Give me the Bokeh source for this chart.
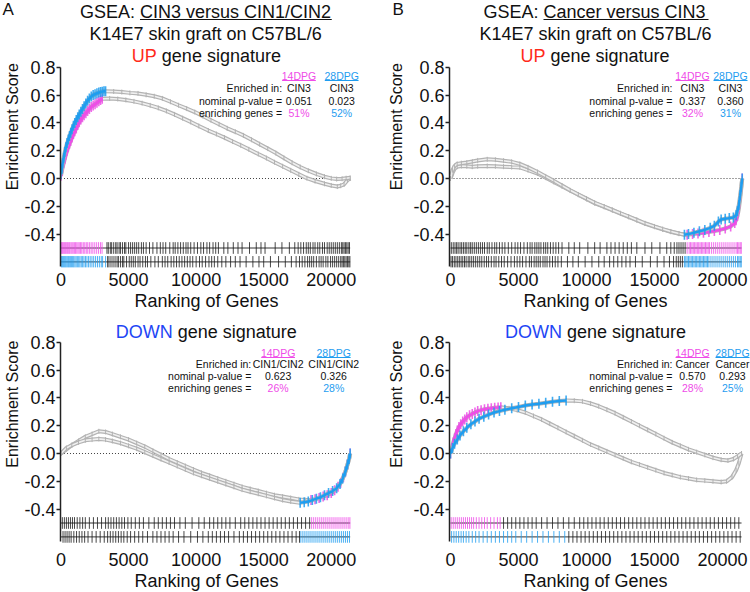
import numpy as np
from bokeh.plotting import figure
from bokeh.models import Range1d, FixedTicker, NumeralTickFormatter, Label, Title
from bokeh.core.properties import value
from bokeh.layouts import column, row
from bokeh.embed import file_html
from bokeh.resources import INLINE

# ---------------- data ----------------
GENE_TICKS = [0, 5000, 10000, 15000, 20000]
ES_TICKS = [-0.4, -0.2, 0.0, 0.2, 0.4, 0.6, 0.8]
N_GENES = 21400
GROUPS = ["14DPG", "28DPG"]
ROW_LABELS = ["Enriched in:", "nominal p-value =", "enriching genes ="]

# Panel A, UP signature
A_UP_ENRICHED = ["CIN3", "CIN3"]
A_UP_PVAL = ["0.051", "0.023"]
A_UP_PCT = ["51%", "52%"]
A_UP_14_GENE = [0, 60, 120, 200, 280, 360, 450, 540, 630, 720, 820, 920, 1020, 1130, 1240, 1350, 1470, 1590,
                1710, 1840, 1970, 2100, 2240, 2380, 2520, 2660, 2800, 2930, 3050, 3600, 4200, 4800, 5400, 6000,
                6600, 7200, 7800, 8400, 9000, 9600, 10200, 10900, 11500, 12100, 12700, 13300, 13900, 14600,
                15200, 15800, 16400, 17000, 17600, 18200, 18800, 19500, 20000, 20450, 20700, 20950, 21200, 21400]
A_UP_14_ES = [0.02, 0.05, 0.08, 0.11, 0.14, 0.17, 0.2, 0.225, 0.25, 0.27, 0.295, 0.32, 0.34, 0.36, 0.385, 0.405,
              0.425, 0.44, 0.455, 0.47, 0.485, 0.5, 0.515, 0.525, 0.535, 0.545, 0.555, 0.565, 0.573, 0.576, 0.572,
              0.565, 0.555, 0.542, 0.526, 0.508, 0.486, 0.461, 0.434, 0.407, 0.378, 0.345, 0.32, 0.294, 0.266,
              0.239, 0.21, 0.176, 0.147, 0.117, 0.088, 0.059, 0.03, 0.002, -0.018, -0.038, -0.05, -0.058, -0.052,
              -0.042, -0.012, 0.0]
A_UP_14_LE = 3050
A_UP_28_GENE = [0, 60, 120, 200, 280, 360, 450, 540, 630, 720, 820, 920, 1020, 1130, 1240, 1350, 1470, 1590,
                1710, 1840, 1970, 2100, 2240, 2380, 2520, 2660, 2800, 2930, 3050, 3180, 3300, 3900, 4500, 5100,
                5700, 6300, 6900, 7500, 8100, 8700, 9300, 9900, 10500, 11100, 11700, 12300, 12900, 13500, 14100,
                14700, 15300, 15900, 16500, 17100, 17700, 18300, 18900, 19500, 20000, 20400, 20800, 21100, 21400]
A_UP_28_ES = [0.03, 0.07, 0.11, 0.15, 0.19, 0.225, 0.255, 0.28, 0.305, 0.33, 0.355, 0.38, 0.4, 0.42, 0.44, 0.46,
              0.48, 0.5, 0.52, 0.54, 0.56, 0.575, 0.59, 0.6, 0.607, 0.613, 0.618, 0.622, 0.625, 0.627, 0.628,
              0.626, 0.622, 0.616, 0.612, 0.602, 0.592, 0.576, 0.552, 0.527, 0.503, 0.478, 0.449, 0.419, 0.39,
              0.361, 0.336, 0.31, 0.279, 0.247, 0.215, 0.183, 0.148, 0.113, 0.083, 0.056, 0.033, 0.013, 0.001,
              -0.004, -0.002, 0.002, 0.005]
A_UP_28_LE = 3300
A_UP_14_HITS = [20, 80, 140, 210, 280, 350, 430, 500, 580, 650, 740, 820, 900, 990, 1080, 1170, 1260, 1350, 1450,
                1540, 1650, 1760, 1870, 1980, 2100, 2230, 2360, 2500, 2640, 2780, 2920, 3040,
                3400, 3500, 3650, 3750, 3900, 4050, 4150, 4300, 4400, 4550, 4700, 4800, 5000, 5150, 5300, 5450,
                5600, 5750, 5950, 6100, 6300, 6550, 6800, 7100, 7350, 7550, 7750, 8050, 8300, 8450, 8650, 8850,
                9050, 9250, 9400, 9600, 9850, 10100, 10350, 10550, 10800, 11000, 11250, 11450, 11650, 12050,
                12350, 12750, 13100, 13400, 13950, 14450, 14800, 15100, 15850, 16350, 16900, 17300, 17550, 17750,
                17950, 18150, 18300, 18450, 18650, 18800, 19000, 19150, 19350, 19500, 19700, 19850, 20000, 20150,
                20300, 20450, 20600, 20750, 20850, 20950, 21050, 21150, 21250, 21350]
A_UP_28_HITS = [30, 100, 170, 240, 310, 380, 460, 540, 610, 690, 770, 860, 940, 1030, 1120, 1210, 1310, 1400,
                1500, 1600, 1700, 1810, 1920, 2040, 2160, 2290, 2420, 2560, 2700, 2840, 2980, 3080,
                3300, 3450, 3550, 3700, 3850, 4000, 4150, 4250, 4400, 4550, 4650, 4850, 5050, 5200, 5350, 5500,
                5700, 5850, 6050, 6250, 6400, 6650, 6950, 7200, 7500, 7700, 7900, 8150, 8350, 8550, 8750, 8950,
                9150, 9350, 9550, 9750, 10000, 10250, 10450, 10700, 10950, 11150, 11350, 11600, 11900, 12200,
                12550, 12900, 13250, 13700, 14200, 14650, 15000, 15500, 16100, 16600, 17050, 17400, 17650, 17850,
                18050, 18250, 18400, 18550, 18700, 18900, 19100, 19250, 19400, 19600, 19750, 19950, 20100, 20250,
                20400, 20550, 20700, 20800, 20900, 21000, 21100, 21200, 21300, 21380]

# Panel B, UP signature
B_UP_ENRICHED = ["CIN3", "CIN3"]
B_UP_PVAL = ["0.337", "0.360"]
B_UP_PCT = ["32%", "31%"]
B_UP_14_GENE = [0, 150, 300, 490, 800, 1200, 1600, 2000, 2700, 3300, 3900, 4500, 5100, 5700, 6400, 7000, 7600,
                8200, 8800, 9400, 10000, 10600, 11300, 11900, 12500, 13100, 13700, 14300, 15000, 15600, 16200,
                16800, 17400, 17800, 18200, 18600, 19000, 19400, 19800, 20200, 20600, 20900, 21000, 21100, 21200,
                21280, 21350, 21400, 21450]
B_UP_14_ES = [0.0, 0.04, 0.07, 0.085, 0.09, 0.088, 0.085, 0.088, 0.09, 0.088, 0.085, 0.082, 0.08, 0.06, 0.036,
              0.006, -0.025, -0.056, -0.087, -0.117, -0.147, -0.177, -0.204, -0.228, -0.252, -0.276, -0.3, -0.324,
              -0.347, -0.366, -0.383, -0.397, -0.405, -0.4, -0.395, -0.39, -0.385, -0.378, -0.37, -0.36, -0.345,
              -0.32, -0.3, -0.27, -0.22, -0.16, -0.1, -0.05, 0.0]
B_UP_14_LE = 17400
B_UP_28_GENE = [0, 150, 300, 490, 800, 1200, 1600, 2000, 2700, 3300, 3900, 4500, 5100, 5700, 6400, 7000, 7600,
                8200, 8800, 9400, 10000, 10600, 11300, 11900, 12500, 13100, 13700, 14300, 15000, 15600, 16200,
                16800, 17200, 17500, 17900, 18300, 18700, 19100, 19400, 19700, 19900, 20200, 20500, 20800, 21000,
                21100, 21200, 21300, 21380, 21450]
B_UP_28_ES = [0.0, 0.06, 0.09, 0.105, 0.11, 0.115, 0.122, 0.13, 0.138, 0.135, 0.128, 0.12, 0.105, 0.08, 0.047,
              0.015, -0.017, -0.051, -0.085, -0.115, -0.145, -0.175, -0.202, -0.226, -0.25, -0.274, -0.298,
              -0.322, -0.345, -0.364, -0.381, -0.396, -0.405, -0.4, -0.39, -0.38, -0.37, -0.355, -0.34, -0.31,
              -0.295, -0.29, -0.285, -0.28, -0.265, -0.235, -0.19, -0.12, -0.06, 0.0]
B_UP_28_LE = 17200
B_UP_14_HITS = [60, 200, 330, 450, 560, 700, 820, 950, 1080, 1200, 1350, 1480, 1600, 1750, 1900, 2050, 2200,
                2350, 2500, 2700, 2850, 3050, 3250, 3400, 3600, 3800, 4000, 4250, 4500, 4750, 4950, 5150, 5400,
                5650, 5850, 6000, 6200, 6350, 6500, 6650, 6850, 7000, 7150, 7350, 7550, 7750, 7950, 8200, 8700,
                9100, 9500, 10100, 10600, 11000, 11500, 11800, 12100, 12400, 12700, 13000, 13300, 13700, 14300,
                14800, 15400, 15900, 16200, 16450, 16650, 16800, 16950, 17100, 17250, 17400,
                17550, 17650, 17750, 17850, 17950, 18050, 18150, 18250, 18350, 18450, 18550, 18650, 18750, 18850,
                18950, 19050, 19200, 19350, 19500, 19650, 19800, 19950, 20100, 20250, 20400, 20550, 20700, 20850,
                21000, 21100, 21200, 21300, 21380]
B_UP_28_HITS = [40, 150, 280, 400, 530, 650, 780, 900, 1030, 1150, 1300, 1420, 1560, 1700, 1850, 2000, 2150,
                2300, 2480, 2650, 2800, 3000, 3200, 3350, 3550, 3750, 3950, 4200, 4450, 4700, 4900, 5100, 5300,
                5550, 5800, 5950, 6150, 6300, 6450, 6600, 6800, 6950, 7100, 7300, 7500, 7700, 7900, 8150, 8600,
                9000, 9400, 9900, 10400, 10900, 11300, 11700, 12000, 12300, 12600, 12900, 13200, 13600, 14100,
                14700, 15200, 15700, 16100, 16400, 16600, 16750, 16900, 17050, 17200,
                17300, 17400, 17500, 17600, 17700, 17800, 17900, 18000, 18100, 18200, 18300, 18400, 18500, 18600,
                18700, 18800, 18900, 19000, 19150, 19300, 19450, 19600, 19750, 19900, 20050, 20200, 20350, 20500,
                20650, 20800, 20950, 21100, 21200, 21300, 21380]

# Panel A, DOWN signature
A_DN_ENRICHED = ["CIN1/CIN2", "CIN1/CIN2"]
A_DN_PVAL = ["0.623", "0.326"]
A_DN_PCT = ["26%", "28%"]
A_DN_14_GENE = [0, 400, 800, 1300, 1800, 2300, 2800, 3300, 3800, 4400, 5000, 5600, 6200, 6800, 7400, 8000, 8600,
                9200, 9800, 10400, 11000, 11600, 12200, 12800, 13400, 14000, 14600, 15200, 15800, 16400, 17000,
                17600, 18100, 18500, 18800, 19100, 19400, 19700, 20000, 20250, 20500, 20700, 20900, 21050, 21200,
                21320, 21400]
A_DN_14_ES = [0.0, 0.03, 0.06, 0.09, 0.12, 0.14, 0.16, 0.155, 0.14, 0.12, 0.1, 0.075, 0.05, 0.02, -0.01, -0.04,
              -0.065, -0.09, -0.115, -0.14, -0.16, -0.18, -0.2, -0.22, -0.24, -0.255, -0.27, -0.285, -0.3, -0.31,
              -0.32, -0.33, -0.335, -0.335, -0.33, -0.32, -0.31, -0.3, -0.285, -0.265, -0.24, -0.21, -0.17, -0.13,
              -0.08, -0.04, 0.0]
A_DN_14_LE = 18500
A_DN_28_GENE = [0, 400, 800, 1300, 1800, 2300, 2800, 3300, 3800, 4400, 5000, 5600, 6200, 6800, 7400, 8000, 8600,
                9200, 9800, 10400, 11000, 11600, 12200, 12800, 13400, 14000, 14600, 15200, 15800, 16400, 17000,
                17700, 18000, 18300, 18600, 18900, 19200, 19500, 19800, 20100, 20400, 20650, 20850, 21050, 21200,
                21320, 21400]
A_DN_28_ES = [0.0, 0.04, 0.06, 0.08, 0.095, 0.1, 0.105, 0.1, 0.09, 0.075, 0.055, 0.035, 0.01, -0.015, -0.04,
              -0.065, -0.09, -0.115, -0.14, -0.16, -0.18, -0.2, -0.22, -0.24, -0.26, -0.275, -0.29, -0.305, -0.32,
              -0.335, -0.345, -0.355, -0.35, -0.345, -0.335, -0.325, -0.315, -0.3, -0.285, -0.27, -0.25, -0.22,
              -0.18, -0.13, -0.08, -0.04, 0.0]
A_DN_28_LE = 17700
A_DN_14_HITS = [100, 250, 400, 550, 700, 850, 1000, 1200, 1400, 1600, 1800, 2100, 2400, 2700, 3000, 3300, 3500,
                3700, 3900, 4100, 4300, 4500, 4700, 4950, 5200, 5500, 5800, 6100, 6500, 6900, 7200, 7500, 7800,
                8100, 8400, 8800, 9200, 9700, 10200, 10600, 11000, 11300, 11600, 11900, 12200, 12500, 12900,
                13300, 13600, 13900, 14200, 14500, 14800, 15100, 15400, 15700, 16000, 16300, 16600, 16900, 17200,
                17500, 17800, 18100, 18400,
                18550, 18700, 18850, 19000, 19150, 19300, 19450, 19600, 19750, 19900, 20050, 20200, 20350, 20500,
                20650, 20800, 20950, 21100, 21250, 21380]
A_DN_28_HITS = [150, 300, 450, 600, 750, 950, 1150, 1350, 1550, 1750, 2000, 2300, 2600, 2900, 3200, 3450, 3650,
                3850, 4050, 4250, 4450, 4650, 4900, 5150, 5450, 5750, 6050, 6400, 6800, 7100, 7400, 7700, 8000,
                8300, 8700, 9100, 9600, 10100, 10500, 10900, 11200, 11500, 11800, 12100, 12400, 12800, 13200,
                13500, 13800, 14100, 14400, 14700, 15000, 15300, 15600, 15900, 16200, 16500, 16800, 17100, 17400,
                17650,
                17750, 17900, 18050, 18200, 18350, 18500, 18650, 18800, 18950, 19100, 19250, 19400, 19550, 19700,
                19850, 20000, 20150, 20300, 20450, 20600, 20750, 20900, 21050, 21200, 21350]

# Panel B, DOWN signature
B_DN_ENRICHED = ["Cancer", "Cancer"]
B_DN_PVAL = ["0.570", "0.293"]
B_DN_PCT = ["28%", "25%"]
B_DN_14_GENE = [0, 100, 200, 300, 400, 500, 620, 750, 900, 1050, 1200, 1400, 1600, 1800, 2000, 2250, 2500, 2750,
                3000, 3250, 3500, 3700, 4300, 4900, 5500, 6100, 6700, 7300, 7900, 8500, 9100, 9700, 10300, 10900,
                11500, 12100, 12700, 13300, 13900, 14500, 15100, 15700, 16300, 16900, 17500, 18100, 18700, 19300,
                19900, 20300, 20700, 21000, 21200, 21400]
B_DN_14_ES = [0.0, 0.04, 0.08, 0.11, 0.14, 0.165, 0.19, 0.21, 0.23, 0.245, 0.26, 0.275, 0.285, 0.295, 0.305,
              0.312, 0.318, 0.322, 0.326, 0.329, 0.331, 0.332, 0.325, 0.312, 0.295, 0.27, 0.245, 0.215, 0.185,
              0.155, 0.125, 0.095, 0.065, 0.04, 0.015, -0.01, -0.035, -0.06, -0.08, -0.1, -0.12, -0.14, -0.155,
              -0.17, -0.18, -0.19, -0.195, -0.2, -0.205, -0.2, -0.17, -0.12, -0.07, 0.0]
B_DN_14_LE = 3700
B_DN_28_GENE = [0, 150, 300, 500, 700, 950, 1200, 1500, 1800, 2100, 2450, 2800, 3200, 3600, 4000, 4500, 5000,
                5500, 6000, 6500, 7000, 7500, 8000, 8500, 9100, 9700, 10300, 10900, 11500, 12100, 12700, 13300,
                13900, 14500, 15100, 15700, 16300, 16900, 17500, 18100, 18700, 19300, 19900, 20400, 20800, 21100,
                21400]
B_DN_28_ES = [0.0, 0.04, 0.07, 0.1, 0.13, 0.16, 0.185, 0.21, 0.23, 0.25, 0.265, 0.28, 0.295, 0.305, 0.315,
              0.325, 0.335, 0.345, 0.352, 0.358, 0.365, 0.372, 0.378, 0.382, 0.38, 0.375, 0.36, 0.34, 0.315, 0.29,
              0.26, 0.23, 0.2, 0.17, 0.14, 0.11, 0.08, 0.055, 0.03, 0.01, -0.01, -0.03, -0.045, -0.05, -0.04,
              -0.02, 0.0]
B_DN_28_LE = 8500
B_DN_14_HITS = [50, 200, 350, 500, 650, 800, 950, 1100, 1250, 1400, 1550, 1700, 1900, 2100, 2300, 2500, 2700,
                2950, 3200, 3450, 3650,
                3900, 4200, 4500, 4800, 5100, 5400, 5700, 6000, 6300, 6700, 7100, 7500, 7900, 8300, 8700, 9100,
                9500, 9800, 10100, 10400, 10700, 11000, 11300, 11600, 11900, 12200, 12500, 12800, 13100, 13400,
                13700, 14000, 14300, 14600, 14900, 15200, 15500, 15800, 16100, 16400, 16700, 17000, 17300, 17600,
                17900, 18200, 18500, 18800, 19100, 19400, 19700, 20000, 20300, 20600, 20900, 21200]
B_DN_28_HITS = [80, 250, 420, 600, 780, 950, 1150, 1350, 1600, 1850, 2100, 2400, 2700, 3000, 3300, 3600, 3900,
                4200, 4500, 4800, 5200, 5600, 6000, 6400, 6800, 7200, 7600, 8000, 8400,
                8700, 9000, 9300, 9600, 9900, 10200, 10500, 10800, 11100, 11400, 11700, 12000, 12300, 12600,
                12900, 13200, 13500, 13800, 14100, 14400, 14700, 15000, 15300, 15600, 15900, 16200, 16500, 16800,
                17100, 17400, 17700, 18000, 18300, 18600, 18900, 19200, 19500, 19800, 20100, 20400, 20700, 21000,
                21300]

# ---------------- style ----------------
PINK = "#ef4ce8"
BLUE = "#1f9df0"
RED = "#ff2a1a"
DOWN_BLUE = "#1e46f5"
FONT = "Liberation Sans"
SX = 0.0136   # px per gene
SY = 139.0    # px per ES unit
RUG_LEVELS = [-0.5, -0.6]


def make_panel(cx, cy, w, h, lb, rb, bb, g0x, e0y, xlab_standoff):
    fl = cx + lb
    fw = w - lb - rb
    fh = h - bb
    x0 = (fl - g0x) / SX
    x1 = x0 + fw / SX
    y1 = (e0y - cy) / SY
    y0 = y1 - fh / SY
    p = figure(width=w, height=h, x_range=Range1d(x0, x1), y_range=Range1d(y0, y1),
               output_backend="svg", toolbar_location=None,
               min_border_left=lb, min_border_right=rb, min_border_top=0, min_border_bottom=bb)
    p.outline_line_color = None
    p.xgrid.visible = False
    p.ygrid.visible = False
    p.background_fill_color = "white"
    p.border_fill_color = "white"

    ya = p.yaxis[0]
    ya.ticker = FixedTicker(ticks=ES_TICKS)
    ya.formatter = NumeralTickFormatter(format="0.0")
    ya.bounds = (-0.63, 0.8)
    ya.axis_line_width = 1.5
    ya.axis_line_color = "#222222"
    ya.major_tick_line_color = "#222222"
    ya.major_tick_line_width = 1.5
    ya.major_tick_out = 4
    ya.major_tick_in = 0
    ya.minor_tick_line_color = None
    ya.major_label_standoff = 1
    ya.major_label_text_font = FONT
    ya.major_label_text_font_size = "18px"
    ya.major_label_text_color = "#111111"

    xa = p.xaxis[0]
    xa.ticker = FixedTicker(ticks=GENE_TICKS)
    xa.formatter = NumeralTickFormatter(format="0")
    xa.axis_line_color = None
    xa.major_tick_line_color = None
    xa.minor_tick_line_color = None
    xa.major_tick_out = 0
    xa.major_tick_in = 0
    xa.major_label_standoff = xlab_standoff
    xa.major_label_text_font = FONT
    xa.major_label_text_font_size = "18px"
    xa.major_label_text_color = "#111111"

    p.add_layout(Title(text="Ranking of Genes", align="left", offset=74, standoff=0,
                       text_font=FONT, text_font_size="18px", text_font_style="normal",
                       text_color="#111111"), "below")

    X = lambda px: (px - g0x) / SX
    Y = lambda py: (e0y - py) / SY
    return p, X, Y


def make_strip(x0, x1, y0, y1, texts):
    s = figure(width=x1 - x0, height=y1 - y0, x_range=Range1d(x0, x1), y_range=Range1d(y1, y0),
               output_backend="svg", toolbar_location=None, x_axis_type=None, y_axis_type=None,
               min_border_left=0, min_border_right=0, min_border_top=0, min_border_bottom=0)
    s.outline_line_color = None
    s.background_fill_color = "white"
    s.border_fill_color = "white"
    for (tx, ty, t, size, ang, align) in texts:
        s.text(x=[tx], y=[ty], text=[t], text_font=value(FONT), text_font_size=value(size),
               text_color="#111111", text_align=align, text_baseline="middle", angle=ang)
    return s


def txt(p, x, y, text, size="18px", color="#111111", align="center"):
    p.add_layout(Label(x=x, y=y, text=text, text_font=FONT, text_font_size=size, text_color=color,
                       text_align=align, text_baseline="middle"))


def draw_curve(p, genes, es, le, side, color):
    g = np.array(genes, dtype=float)
    e = np.array(es, dtype=float)
    p.line(g, e, line_color="#b3b3b3", line_width=4.0)
    p.line(g, e, line_color="#f0f0f0", line_width=1.6)
    p.scatter(g, e, marker="dash", angle=np.pi / 2, size=5, line_color="#b3b3b3", line_width=1)
    m = g <= le if side == "low" else g >= le
    p.line(g[m], e[m], line_color=color, line_width=2.5)
    p.scatter(g[m], e[m], marker="dash", angle=np.pi / 2, size=10, line_color=color, line_width=1.6,
              line_alpha=0.85)


def draw_rug(p, hits, le, side, color, level):
    p.line([0, N_GENES], [level, level], line_color="#333333", line_width=1)
    h = np.array(hits, dtype=float)
    m = h <= le if side == "low" else h >= le
    cols = [color if k else "#1a1a1a" for k in m]
    p.segment(x0=h, y0=level - 0.042, x1=h, y1=level + 0.042, line_color=cols, line_width=1,
              line_alpha=0.8)


def build(p, curves, rugs):
    p.line([0, N_GENES], [0, 0], line_color="#444444", line_width=1, line_dash="1 2")
    for (genes, es, le, side, color) in curves:
        draw_curve(p, genes, es, le, side, color)
    for (hits, le, side, color), lvl in zip(rugs, RUG_LEVELS):
        draw_rug(p, hits, le, side, color, lvl)


def stats_block(p, X, Y, rows_y, c1, c2, labx, enriched, pval, pct):
    for cx_, g, col in zip([c1, c2], GROUPS, [PINK, BLUE]):
        txt(p, X(cx_), Y(rows_y[0]), g, size="10.5px", color=col)
        p.segment(x0=[X(cx_ - 17)], y0=[Y(rows_y[0] + 5)], x1=[X(cx_ + 17)], y1=[Y(rows_y[0] + 5)],
                  line_color=col, line_width=1)
    for lab, yy in zip(ROW_LABELS, rows_y[1:]):
        txt(p, X(labx), Y(yy), lab, size="10.5px", align="right")
    for vals, yy, cols in [(enriched, rows_y[1], ["#111111", "#111111"]),
                           (pval, rows_y[2], ["#111111", "#111111"]),
                           (pct, rows_y[3], [PINK, BLUE])]:
        for v, cx_, c in zip(vals, [c1, c2], cols):
            txt(p, X(cx_), Y(yy), v, size="10.5px", color=c)


# ---------------- Panel A UP (top-left) ----------------
sA1 = make_strip(0, 21, 0, 313, [(2, 10, "A", "17px", 0.0, "left"),
                                  (11.5, 148, "Enrichment Score", "16px", np.pi / 2, "center")])
pA1, X, Y = make_panel(21, 0, 354, 313, 37, 5, 46, 58.5, 178, 5)
build(pA1, [(A_UP_14_GENE, A_UP_14_ES, A_UP_14_LE, "low", PINK),
            (A_UP_28_GENE, A_UP_28_ES, A_UP_28_LE, "low", BLUE)],
      [(A_UP_14_HITS, A_UP_14_LE, "low", PINK), (A_UP_28_HITS, A_UP_28_LE, "low", BLUE)])
txt(pA1, X(133), Y(11), "GSEA:", align="right")
txt(pA1, X(138), Y(11), "CIN3 versus CIN1/CIN2", align="left")
pA1.segment(x0=[X(138)], y0=[Y(19)], x1=[X(331)], y1=[Y(19)], line_color="#111111", line_width=1.2)
txt(pA1, X(204), Y(33), "K14E7 skin graft on C57BL/6")
txt(pA1, X(155), Y(55), "UP", color=RED, align="right")
txt(pA1, X(160), Y(55), "gene signature", align="left")
stats_block(pA1, X, Y, [75, 87, 100.5, 112.5], 298, 341, 281, A_UP_ENRICHED, A_UP_PVAL, A_UP_PCT)

# ---------------- Panel B UP (top-right) ----------------
sB1 = make_strip(375, 405, 0, 313, [(392, 10, "B", "17px", 0.0, "left"),
                                     (396, 148, "Enrichment Score", "16px", np.pi / 2, "center")])
pB1, X, Y = make_panel(405, 0, 345, 313, 44, 0, 46, 450, 178, 5)
build(pB1, [(B_UP_14_GENE, B_UP_14_ES, B_UP_14_LE, "high", PINK),
            (B_UP_28_GENE, B_UP_28_ES, B_UP_28_LE, "high", BLUE)],
      [(B_UP_14_HITS, B_UP_14_LE, "high", PINK), (B_UP_28_HITS, B_UP_28_LE, "high", BLUE)])
txt(pB1, X(538), Y(11), "GSEA:", align="right")
txt(pB1, X(543), Y(11), "Cancer versus CIN3", align="left")
pB1.segment(x0=[X(543)], y0=[Y(19)], x1=[X(708)], y1=[Y(19)], line_color="#111111", line_width=1.2)
txt(pB1, X(595), Y(33), "K14E7 skin graft on C57BL/6")
txt(pB1, X(545), Y(55), "UP", color=RED, align="right")
txt(pB1, X(550), Y(55), "gene signature", align="left")
stats_block(pB1, X, Y, [75, 87, 100.5, 112.5], 692, 730, 672, B_UP_ENRICHED, B_UP_PVAL, B_UP_PCT)

# ---------------- Panel A DOWN (bottom-left) ----------------
sA2 = make_strip(0, 21, 313, 592, [(11.5, 423, "Enrichment Score", "16px", np.pi / 2, "center")])
pA2, X, Y = make_panel(21, 313, 354, 279, 37, 5, 49, 58.5, 453, 9)
build(pA2, [(A_DN_14_GENE, A_DN_14_ES, A_DN_14_LE, "high", PINK),
            (A_DN_28_GENE, A_DN_28_ES, A_DN_28_LE, "high", BLUE)],
      [(A_DN_14_HITS, A_DN_14_LE, "high", PINK), (A_DN_28_HITS, A_DN_28_LE, "high", BLUE)])
txt(pA2, X(171), Y(331), "DOWN", color=DOWN_BLUE, align="right")
txt(pA2, X(176), Y(331), "gene signature", align="left")
stats_block(pA2, X, Y, [352, 363.5, 375, 387], 277, 333, 250, A_DN_ENRICHED, A_DN_PVAL, A_DN_PCT)

# ---------------- Panel B DOWN (bottom-right) ----------------
sB2 = make_strip(375, 405, 313, 592, [(396, 423, "Enrichment Score", "16px", np.pi / 2, "center")])
pB2, X, Y = make_panel(405, 313, 345, 279, 44, 0, 49, 450, 453, 9)
build(pB2, [(B_DN_14_GENE, B_DN_14_ES, B_DN_14_LE, "low", PINK),
            (B_DN_28_GENE, B_DN_28_ES, B_DN_28_LE, "low", BLUE)],
      [(B_DN_14_HITS, B_DN_14_LE, "low", PINK), (B_DN_28_HITS, B_DN_28_LE, "low", BLUE)])
txt(pB2, X(561.5), Y(331), "DOWN", color=DOWN_BLUE, align="right")
txt(pB2, X(566.5), Y(331), "gene signature", align="left")
stats_block(pB2, X, Y, [352, 363.5, 375, 387], 692, 732, 672, B_DN_ENRICHED, B_DN_PVAL, B_DN_PCT)

layout = column(row(sA1, pA1, sB1, pB1), row(sA2, pA2, sB2, pB2))
open("out.html", "w").write(file_html(layout, INLINE))
